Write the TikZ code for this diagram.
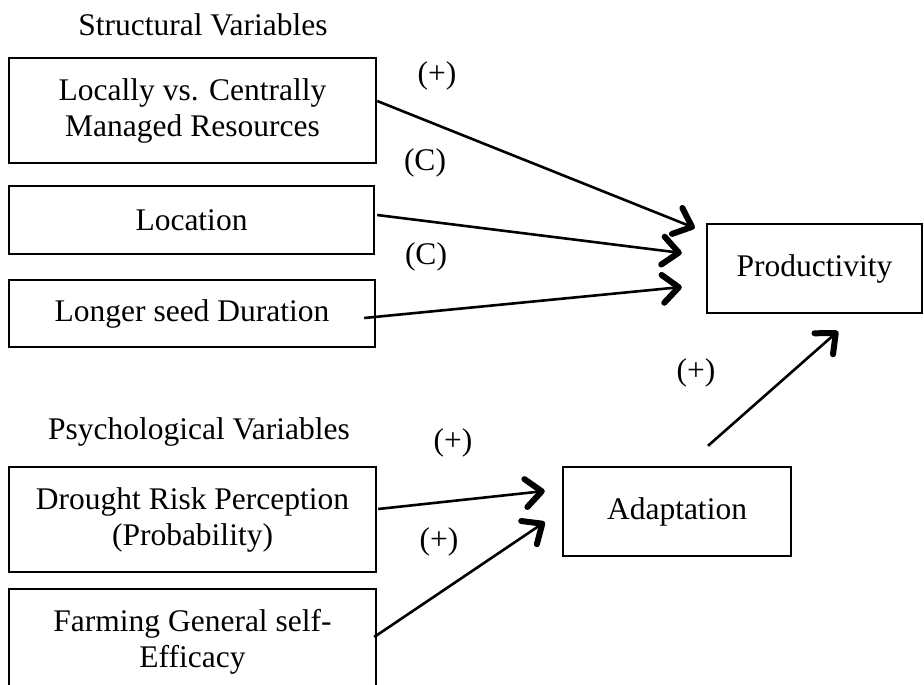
\documentclass[tikz,border=0pt]{standalone}
\usepackage{fontspec}
\setmainfont{Liberation Serif}
\usetikzlibrary{arrows.meta}
\begin{document}
\begin{tikzpicture}[x=1pt,y=-1pt,
  every node/.style={font=\fontsize{31.5}{36}\selectfont},
  varbox/.style={draw, line width=2.4pt, inner sep=0pt, align=center},
  lbl/.style={inner sep=0pt},
  conn/.style={line width=2.6pt, -{Straight Barb[length=16pt,width=28pt,line width'=6pt,round]}}]
\useasboundingbox (0,0) rectangle (924,685);
\clip (0,0) rectangle (924,685);
\node[lbl] (hs) at (203,25) {Structural Variables};
\node[varbox, minimum width=367pt, minimum height=105pt] (b1) at (192.5,110.5) {Locally vs. Centrally\\Managed Resources};
\node[varbox, minimum width=365pt, minimum height=68pt] (b2) at (191.5,220) {Location};
\node[varbox, minimum width=366pt, minimum height=67pt] (b3) at (192,313.5) {Longer seed Duration};
\node[varbox, minimum width=215pt, minimum height=89pt] (prod) at (814.5,268.5) {Productivity};
\node[lbl] (hp) at (199,432) {Psychological Variables};
\node[varbox, minimum width=367pt, minimum height=105pt] (b4) at (192.5,519.5) {Drought Risk Perception\\(Probability)};
\node[varbox, minimum width=367pt, minimum height=105pt] (b5) at (192.5,641.5) {Farming General self-\\Efficacy};
\node[varbox, minimum width=228pt, minimum height=89pt] (adapt) at (677,511.5) {Adaptation};
\node[lbl] (l1) at (437,76) {(+)};
\node[lbl] (l2) at (425,163) {(C)};
\node[lbl] (l3) at (426,257) {(C)};
\node[lbl] (l4) at (696,373) {(+)};
\node[lbl] (l5) at (453,443) {(+)};
\node[lbl] (l6) at (439,542) {(+)};
\draw[conn] ([yshift=9.5pt]b1.east) -- ([xshift=-11pt,yshift=40.5pt]prod.west);
\draw[conn] ([xshift=2pt,yshift=5pt]b2.east) -- ([xshift=-24pt,yshift=15.5pt]prod.west);
\draw[conn] ([xshift=-12pt,yshift=-4.5pt]b3.east) -- ([xshift=-24pt,yshift=-18.5pt]prod.west);
\draw[conn] ([xshift=1pt,yshift=10.5pt]b4.east) -- ([xshift=-17pt,yshift=20.5pt]adapt.west);
\draw[conn] ([xshift=-3pt,yshift=4.5pt]b5.east) -- ([xshift=-17pt,yshift=-10.5pt]adapt.west);
\draw[conn] ([xshift=31pt,yshift=20pt]adapt.north) -- ([xshift=23.5pt,yshift=-17pt]prod.south);
\end{tikzpicture}
\end{document}
